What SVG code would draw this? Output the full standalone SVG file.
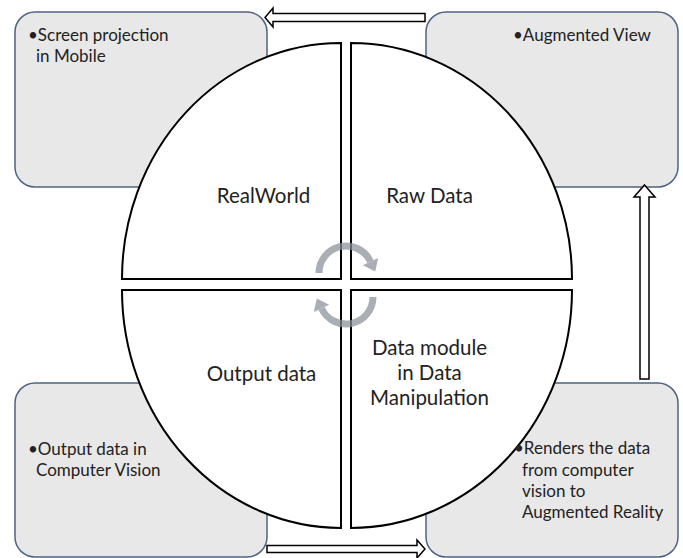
<svg xmlns="http://www.w3.org/2000/svg" width="683" height="558" viewBox="0 0 683 558">
  <style>
    .box { fill: #e8e8e8; stroke: #4f6382; stroke-width: 1.5; }
    .quad { fill: #ffffff; stroke: #000000; stroke-width: 2; }
    .block { fill: #ffffff; stroke: #000000; stroke-width: 1.5; stroke-linejoin: miter; }
    .cyc { opacity: 0.72; }
    .cyc-arc { fill: none; stroke: #8a9099; stroke-width: 7; }
    .cyc-head { fill: #8a9099; }
    .big { font-family: Lato, "Liberation Sans", sans-serif; font-size: 20.5px; fill: #222222; text-anchor: middle; }
    .small { font-family: Lato, "Liberation Sans", sans-serif; font-size: 17px; fill: #222222; }
  </style>
  <defs>
    <filter id="soft" x="-20%" y="-20%" width="140%" height="140%">
      <feGaussianBlur stdDeviation="0.7"/>
    </filter>
    <!-- one curved cycle arrow: arc over the top, head pointing down on the right -->
    <g id="cycle-arrow">
      <path class="cyc-arc" d="M 319 273 A 27 27 0 0 1 370.5 261.6"/>
      <polygon class="cyc-head" points="378.2,258 362.8,265.2 375.2,271.6"/>
    </g>
  </defs>

  <!-- corner boxes -->
  <g id="box-screen">
    <rect class="box" x="15" y="12" width="252" height="175" rx="20" ry="20"/>
  </g>
  <g id="box-augmented">
    <rect class="box" x="426" y="12" width="252" height="175" rx="20" ry="20"/>
  </g>
  <g id="box-output">
    <rect class="box" x="15" y="383" width="252" height="174" rx="20" ry="20"/>
  </g>
  <g id="box-renders">
    <rect class="box" x="426" y="383" width="252" height="174" rx="20" ry="20"/>
  </g>

  <!-- four quadrants of the central circle -->
  <g id="quad-realworld">
    <path class="quad" d="M 341 279 L 122 279 A 219 236 0 0 1 341 43 Z"/>
    <text class="big" x="263.5" y="203">RealWorld</text>
  </g>
  <g id="quad-rawdata">
    <path class="quad" d="M 351 279 L 351 43 A 221 236 0 0 1 572 279 Z"/>
    <text class="big" x="429.5" y="203">Raw Data</text>
  </g>
  <g id="quad-output">
    <path class="quad" d="M 341 290 L 341 528 A 219 238 0 0 1 122 290 Z"/>
    <text class="big" x="261.5" y="381">Output data</text>
  </g>
  <g id="quad-module">
    <path class="quad" d="M 351 290 L 572 290 A 221 238 0 0 1 351 528 Z"/>
    <text class="big" x="429.5" y="355">Data module</text>
    <text class="big" x="429.5" y="380">in Data</text>
    <text class="big" x="429.5" y="405">Manipulation</text>
  </g>

  <!-- box captions -->
  <g id="box-screen-label" class="small">
    <text x="28" y="41">•Screen projection</text>
    <text x="36" y="62">in Mobile</text>
  </g>
  <g id="box-augmented-label" class="small">
    <text x="513" y="41">•Augmented View</text>
  </g>
  <g id="box-output-label" class="small">
    <text x="28" y="455">•Output data in</text>
    <text x="36" y="476">Computer Vision</text>
  </g>
  <g id="box-renders-label" class="small">
    <text x="514" y="454">•Renders the data</text>
    <text x="522" y="476">from computer</text>
    <text x="522" y="497">vision to</text>
    <text x="522" y="518">Augmented Reality</text>
  </g>

  <!-- connectors -->
  <g id="connectors">
    <g class="cyc" filter="url(#soft)">
      <use href="#cycle-arrow"/>
      <use href="#cycle-arrow" transform="rotate(180 346 285)"/>
    </g>
    <path class="block" d="M 265 17.5 L 273 8 L 273 13.5 L 425 13.5 L 425 21.5 L 273 21.5 L 273 27 Z"/>
    <path class="block" d="M 644.5 185 L 655 197 L 649 197 L 649 379 L 640 379 L 640 197 L 634 197 Z"/>
    <path class="block" d="M 425 549 L 417 540 L 417 545.5 L 267 545.5 L 267 552.5 L 417 552.5 L 417 558 Z"/>
  </g>
</svg>
